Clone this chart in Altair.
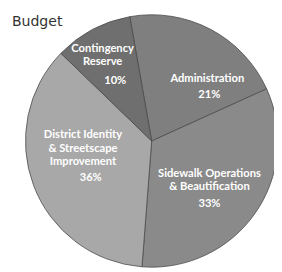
import math
import altair as alt
import pandas as pd

# ---- data ----
categories = [
    "Administration",
    "Sidewalk Operations & Beautification",
    "District Identity & Streetscape Improvement",
    "Contingency Reserve",
]
label_lines = [
    ["Administration"],
    ["Sidewalk Operations", "& Beautification"],
    ["District Identity", "& Streetscape", "Improvement"],
    ["Contingency", "Reserve"],
]
shares = [21, 33, 36, 10]
colors = ["#7f7f7f", "#8a8a8a", "#a8a8a8", "#6f6f6f"]
title_text = "Budget"

df = pd.DataFrame({
    "cat": categories,
    "label": ["\n".join(l) for l in label_lines],
    "pct": [f"{s}%" for s in shares],
    "value": shares,
    "idx": list(range(len(categories))),
})

total = sum(shares)
start = 2 * math.pi - math.radians(10)
theta_scale = alt.Scale(domain=[0, total], range=[start, start + 2 * math.pi])
color_scale = alt.Scale(domain=categories, range=colors)

CX, CY, R = 148, 133, 130
LH = 13.5

base = alt.Chart(df).transform_window(
    cum="sum(value)", sort=[alt.SortField("idx")], frame=[None, 0]
).transform_calculate(
    start="datum.cum - datum.value",
    mid="datum.cum - datum.value / 2",
)

pie = base.mark_arc(outerRadius=R, stroke="#4a4a4a", strokeWidth=0.8).encode(
    theta=alt.Theta("start:Q", scale=theta_scale),
    theta2="cum:Q",
    color=alt.Color("cat:N", scale=color_scale, legend=None),
    x=alt.value(CX),
    y=alt.value(CY),
)

# label offsets (layout only): (dx, dy) for name block centre and for percent
offsets = {
    "Administration": ((20, 7), (22, 23)),
    "Sidewalk Operations & Beautification": ((-6, -5.5), (-6, 19)),
    "District Identity & Streetscape Improvement": ((4, -20.5), (12, 10)),
    "Contingency Reserve": ((-13, -17), (0, 9)),
}

layers = [pie]
for cat, lines in zip(categories, label_lines):
    (ndx, ndy), (pdx, pdy) = offsets[cat]
    ndy = ndy - (len(lines) - 1) * LH / 2
    for field, dx, dy in (("label", ndx, ndy), ("pct", pdx, pdy)):
        layers.append(
            base.transform_filter(alt.datum.cat == cat).mark_text(
                radius=80, dx=dx, dy=dy, lineBreak="\n", lineHeight=LH,
                font="Lato", fontSize=11.5, fontWeight="bold",
                fill="white", align="center", baseline="middle",
            ).encode(
                theta=alt.Theta("mid:Q", scale=theta_scale),
                text=alt.Text(f"{field}:N"),
                x=alt.value(CX),
                y=alt.value(CY),
            )
        )

title = alt.Chart(pd.DataFrame({"t": [title_text]})).mark_text(
    align="left", baseline="alphabetic", font="DejaVu Sans", fontSize=14.5,
    color="#333333",
).encode(text="t:N", x=alt.value(4), y=alt.value(15))
layers.append(title)

chart = alt.layer(*layers).properties(
    width=274, height=264, padding=0,
    autosize=alt.AutoSizeParams(type="none"),
).configure_view(strokeWidth=0)

chart.save("out.html", embed_options={"renderer": "svg", "actions": False})
